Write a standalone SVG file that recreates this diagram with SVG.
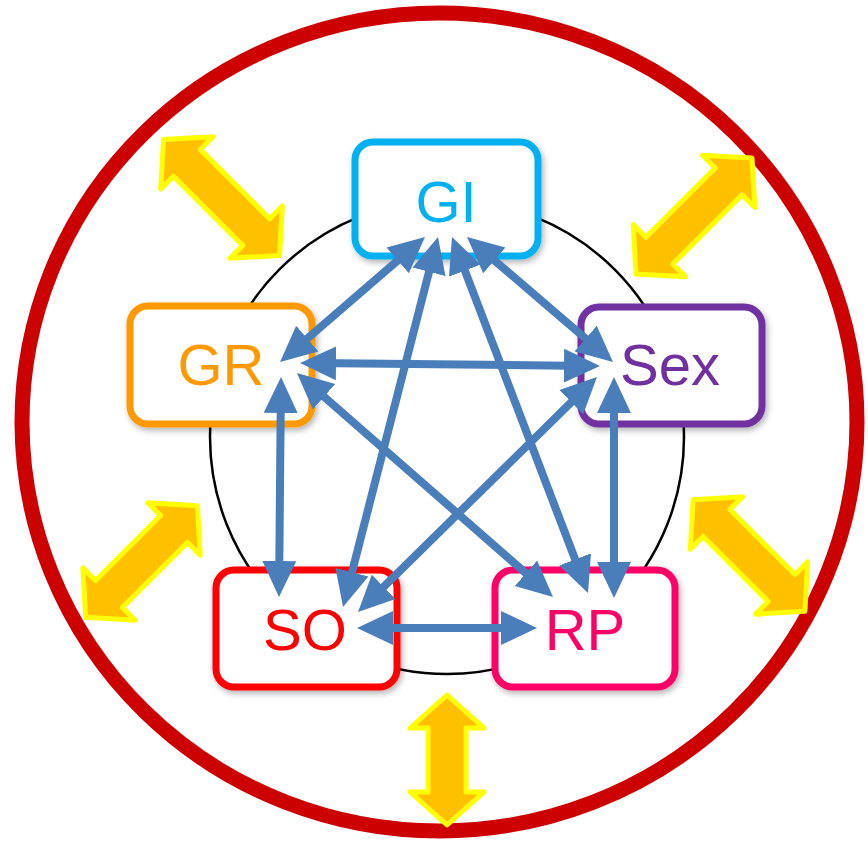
<svg xmlns="http://www.w3.org/2000/svg" width="868" height="843" viewBox="0 0 868 843">
  <style>
    .box { fill: #ffffff; stroke-width: 7; }
    .lbl { font-family: "Liberation Sans", Arial, sans-serif; font-size: 58px; text-anchor: middle; }
    .conn { stroke: #4A7EBB; stroke-width: 8; fill: none; marker-start: url(#ah); marker-end: url(#ah); }
    .ya { fill: #FFC000; stroke: #FFFF00; stroke-width: 5; stroke-linejoin: round; }
  </style>
  <defs>
    <marker id="ah" markerUnits="userSpaceOnUse" markerWidth="36" markerHeight="36" viewBox="0 0 36 36" refX="24" refY="18" orient="auto-start-reverse">
      <path d="M0,1 L36,18 L0,35 z" fill="#4A7EBB"/>
    </marker>
    <filter id="sh" x="-20%" y="-20%" width="140%" height="140%">
      <feDropShadow dx="2" dy="3" stdDeviation="3" flood-color="#000" flood-opacity="0.3"/>
    </filter>
  </defs>

  <rect width="868" height="843" fill="#ffffff"/>

  <g id="outer-ring">
    <ellipse cx="439.5" cy="422" rx="417.5" ry="409" fill="none" stroke="#CC0000" stroke-width="15"/>
  </g>

  <g id="yellow-arrows">
    <polygon class="ya" transform="translate(221.5,197.5) rotate(45)" points="-82,0 -49,-37 -49,-19 49,-19 49,-37 82,0 49,37 49,19 -49,19 -49,37"/>
    <polygon class="ya" transform="translate(694,216) rotate(-45)" points="-82,0 -49,-37 -49,-19 49,-19 49,-37 82,0 49,37 49,19 -49,19 -49,37"/>
    <polygon class="ya" transform="translate(141.5,561.5) rotate(-45)" points="-79,0 -46,-37 -46,-19 46,-19 46,-37 79,0 46,37 46,19 -46,19 -46,37"/>
    <polygon class="ya" transform="translate(749,555.5) rotate(45)" points="-79,0 -46,-37 -46,-19 46,-19 46,-37 79,0 46,37 46,19 -46,19 -46,37"/>
    <polygon class="ya" transform="translate(447,760) rotate(90)" points="-65,0 -32,-37 -32,-19 32,-19 32,-37 65,0 32,37 32,19 -32,19 -32,37"/>
  </g>

  <g id="inner-ring">
    <circle cx="447" cy="437" r="237" fill="none" stroke="#000000" stroke-width="2.5"/>
  </g>

  <g id="node-GI">
    <rect class="box" x="355" y="142" width="183" height="114" rx="18" stroke="#00B0F0" filter="url(#sh)"/>
    <text class="lbl" x="446" y="222" fill="#00B0F0">GI</text>
  </g>
  <g id="node-GR">
    <rect class="box" x="130" y="306" width="182" height="118" rx="18" stroke="#FF9900" filter="url(#sh)"/>
    <text class="lbl" x="221" y="385" fill="#FF9900">GR</text>
  </g>
  <g id="node-Sex">
    <rect class="box" x="581" y="307" width="181" height="117" rx="18" stroke="#7030A0" filter="url(#sh)"/>
    <text class="lbl" x="670" y="385" fill="#7030A0">Sex</text>
  </g>
  <g id="node-SO">
    <rect class="box" x="216" y="570" width="181" height="117" rx="18" stroke="#FF0000" filter="url(#sh)"/>
    <text class="lbl" x="305" y="650" fill="#FF0000">SO</text>
  </g>
  <g id="node-RP">
    <rect class="box" x="495" y="570" width="180" height="117" rx="18" stroke="#FF0066" filter="url(#sh)"/>
    <text class="lbl" x="585" y="650" fill="#FF0066">RP</text>
  </g>

  <g id="connectors">
    <line class="conn" x1="415.9" y1="244.8" x2="289.1" y2="354.2"/>
    <line class="conn" x1="435.0" y1="248.6" x2="346.0" y2="595.4"/>
    <line class="conn" x1="456.3" y1="248.2" x2="583.7" y2="581.8"/>
    <line class="conn" x1="476.1" y1="244.8" x2="603.9" y2="354.2"/>
    <line class="conn" x1="312" y1="363.1" x2="588" y2="365.9"/>
    <line class="conn" x1="280.9" y1="389" x2="279.1" y2="585"/>
    <line class="conn" x1="306.0" y1="380.9" x2="544.0" y2="589.1"/>
    <line class="conn" x1="588.4" y1="385.4" x2="366.6" y2="603.6"/>
    <line class="conn" x1="614" y1="389" x2="614" y2="586"/>
    <line class="conn" x1="369" y1="628" x2="525" y2="628"/>
  </g>
</svg>
